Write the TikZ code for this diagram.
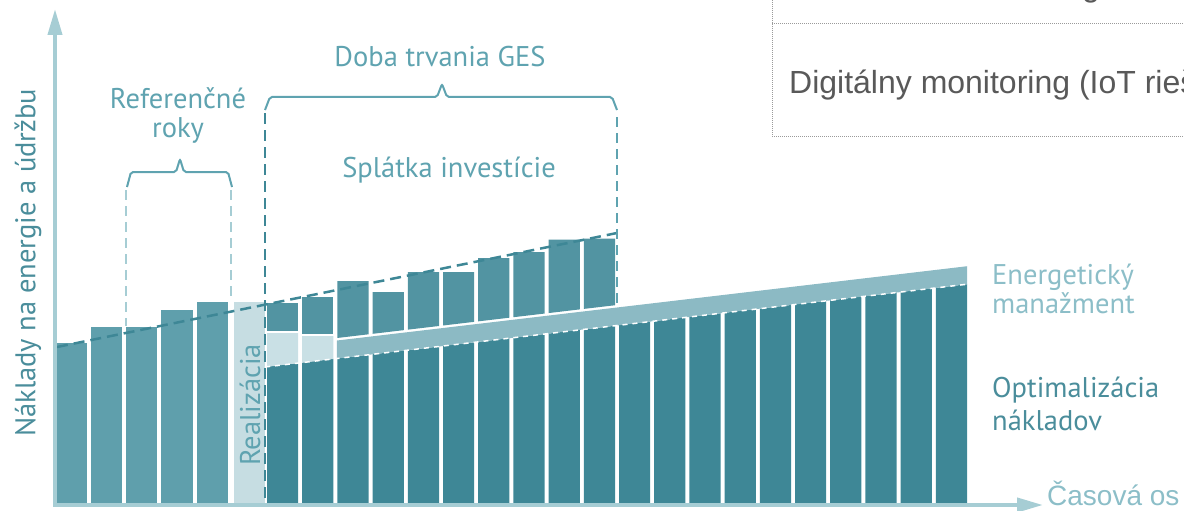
\documentclass[tikz,border=0pt]{standalone}
\usepackage{fontspec}
\usetikzlibrary{arrows.meta}
\newfontfamily\labfont{PT Sans}
\newfontfamily\arialfont{Liberation Sans}
\definecolor{axiscol}{HTML}{A6CDD4}
\definecolor{refbar}{HTML}{5F9FAC}
\definecolor{darkbar}{HTML}{3E8796}
\definecolor{paybar}{HTML}{5294A2}
\definecolor{realcol}{HTML}{C6DDE2}
\definecolor{lightseg}{HTML}{C9E0E5}
\definecolor{bandcol}{HTML}{8CBAC4}
\definecolor{labmid}{HTML}{5FA3B0}
\definecolor{lablight}{HTML}{8CBEC8}
\definecolor{labdark}{HTML}{4A8D9B}
\definecolor{tablegray}{HTML}{9A9A9A}
\definecolor{tabletext}{HTML}{595959}
\tikzset{
  lab/.style={font=\labfont\fontsize{28.5}{32}\selectfont, inner sep=0pt},
  axisline/.style={draw=axiscol, line width=4pt, -{Triangle[width=14pt,length=26pt]}},
  refdash/.style={draw=darkbar, line width=2.5pt, dash pattern=on 11pt off 6pt},
  lightdash/.style={draw=axiscol, line width=2pt, dash pattern=on 10pt off 6pt},
  bracecol/.style={draw=labmid, line width=2pt, rounded corners=2pt},
  tableline/.style={draw=tablegray, line width=1pt, dash pattern=on 1pt off 1pt},
}
\begin{document}
\begin{tikzpicture}[x=1pt,y=-1pt]
\useasboundingbox (0,0) rectangle (1184,511);
% reference bars
\foreach \k/\t in {0/343,1/327,2/327,3/310,4/302}{
  \pgfmathsetmacro\xl{53.8+35.2*\k+2}
  \pgfmathsetmacro\xr{53.8+35.2*(\k+1)-2}
  \fill[refbar] (\xl,503) rectangle (\xr,\t);
}
% realization bar
\fill[realcol] (233.8,503) rectangle (265,302);
% dark bars
\foreach \k in {6,...,25}{
  \pgfmathsetmacro\xl{53.8+35.2*\k+2}
  \pgfmathsetmacro\xr{53.8+35.2*(\k+1)-2}
  \pgfmathsetmacro\yl{367-0.1179*(\xl-265)}
  \pgfmathsetmacro\yr{367-0.1179*(\xr-265)}
  \fill[darkbar] (\xl,503) -- (\xr,503) -- (\xr,\yr) -- (\xl,\yl) -- cycle;
}
% light segments
\foreach \k/\t in {6/333,7/336}{
  \pgfmathsetmacro\xl{53.8+35.2*\k+2}
  \pgfmathsetmacro\xr{53.8+35.2*(\k+1)-2}
  \pgfmathsetmacro\yl{367-0.1179*(\xl-265)}
  \pgfmathsetmacro\yr{367-0.1179*(\xr-265)}
  \fill[lightseg] (\xl,\yl) -- (\xr,\yr) -- (\xr,\t) -- (\xl,\t) -- cycle;
}
% band
\pgfmathsetmacro\bl{53.8+35.2*8+1.5}
\pgfmathsetmacro\dl{367-0.1179*(\bl-265)}
\pgfmathsetmacro\dr{367-0.1179*(967-265)}
\fill[bandcol] (\bl,\dl) -- (967,\dr) -- (967,\dr-18) -- (\bl,\dl-18) -- cycle;
% payback bars
\foreach \k/\t/\b in {6/303/330.5,7/297/333.5}{
  \pgfmathsetmacro\xl{53.8+35.2*\k+2}
  \pgfmathsetmacro\xr{53.8+35.2*(\k+1)-2}
  \fill[paybar] (\xl,\b) rectangle (\xr,\t);
}
\foreach \k/\t in {8/281,9/292,10/272,11/272,12/258,13/252,14/239.5,15/238.5}{
  \pgfmathsetmacro\xl{53.8+35.2*\k+2}
  \pgfmathsetmacro\xr{53.8+35.2*(\k+1)-2}
  \pgfmathsetmacro\yl{367-0.1179*(\xl-265)-20.5}
  \pgfmathsetmacro\yr{367-0.1179*(\xr-265)-20.5}
  \fill[paybar] (\xl,\yl) -- (\xr,\yr) -- (\xr,\t) -- (\xl,\t) -- cycle;
}
% white dashed top edge of dark bars
\coordinate (dA) at (265,367);
\coordinate (dB) at (967,\dr);
\draw[white, line width=1.5pt, dash pattern=on 5pt off 5pt] (dA) -- (dB);
% dashed reference line
\coordinate (rA) at (57,347);
\coordinate (rB) at (617,233);
\draw[refdash] (rA) -- (rB);
% vertical dashed lines
\coordinate (v1t) at (265,113);
\coordinate (v1b) at (265,503);
\draw[refdash] (v1t) -- (v1b);
\coordinate (v2t) at (617,117);
\coordinate (v2b) at (617,304);
\draw[draw=labmid, line width=2pt, dash pattern=on 10pt off 6pt] (v2t) -- (v2b);
\coordinate (v3t) at (126,190);
\coordinate (v3b) at (126,326);
\draw[lightdash] (v3t) -- (v3b);
\coordinate (v4t) at (231,190);
\coordinate (v4b) at (231,301);
\draw[lightdash] (v4t) -- (v4b);
% braces
\draw[bracecol] (127,187) -- (131,172) -- (176,172) -- (180,159) -- (184,172) -- (228,172) -- (232,187);
\draw[bracecol] (265,110) -- (270,97) -- (437,97) -- (442,84) -- (447,97) -- (612,97) -- (617,110);
% axes
\coordinate (origin) at (55,505);
\coordinate (ytip) at (55,9);
\coordinate (xstart) at (53,505);
\coordinate (xtip) at (1043,505);
\draw[axisline] (origin) -- (ytip);
\draw[axisline] (xstart) -- (xtip);
% labels
\node[lab, text=labmid] (ref1) at (178,98) {Referenčné};
\node[lab, text=labmid] (ref2) at (178,130) {roky};
\node[lab, text=labmid] (ges) at (440,57) {Doba trvania GES};
\node[lab, text=labmid] (spl) at (449,170) {Splátka investície};
\node[lab, text=lablight, anchor=west] (en1) at (992,277) {Energetický};
\node[lab, text=lablight, anchor=west] (en2) at (992,303) {manažment};
\node[lab, text=labdark, anchor=west] (op1) at (992,390) {Optimalizácia};
\node[lab, text=labdark, anchor=west] (op2) at (992,420) {nákladov};
\node[lab, text=labdark, rotate=90] (ylab) at (28,263) {Náklady na energie a údržbu};
\node[lab, text=labmid, rotate=90] (real) at (250,405) {Realizácia};
\node[font=\arialfont\fontsize{28}{32}\selectfont, text=lablight, inner sep=0pt, anchor=base west] (xlab) at (1047,505) {Časová os};
% table fragment
\begin{scope}
\clip (0,0) rectangle (1184,511);
\draw[tableline] (772,0) -- (772,136) -- (1184,136);
\draw[tableline] (772,24) -- (1184,24);
\node[font=\arialfont\fontsize{32}{36}\selectfont, text=tabletext, inner sep=0pt, anchor=base west] (dig) at (789,93) {Digitálny monitoring (IoT rieš};
\node[font=\arialfont\fontsize{32}{36}\selectfont, text=tabletext, inner sep=0pt, anchor=base west] (gtail) at (1082,-3.5) {g};
\end{scope}
\end{tikzpicture}
\end{document}
